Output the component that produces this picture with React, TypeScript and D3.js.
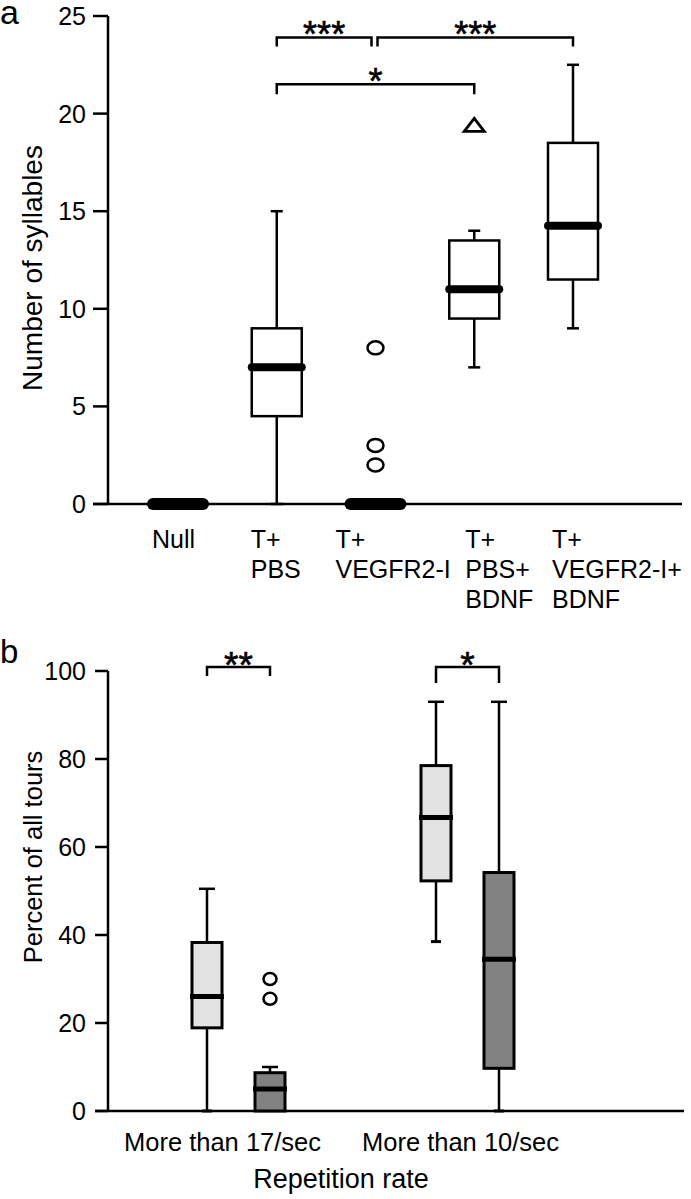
import React from "react";
import * as d3 from "d3";

// ---------- Panel a data ----------
const categoriesA: string[][] = [
  ["Null"],
  ["T+", "PBS"],
  ["T+", "VEGFR2-I"],
  ["T+", "PBS+", "BDNF"],
  ["T+", "VEGFR2-I+", "BDNF"],
];
const minA = [0, 0, 0, 7, 9];
const q1A = [0, 4.5, 0, 9.5, 11.5];
const medA = [0, 7, 0, 11, 14.25];
const q3A = [0, 9, 0, 13.5, 18.5];
const maxA = [0, 15, 0, 14, 22.5];
const outlierCatA = [2, 2, 2, 3];
const outlierValA = [8, 3, 2, 19.4];
const outlierShapeA = ["circle", "circle", "circle", "triangle"];
const ticksA = [0, 5, 10, 15, 20, 25];
const bracketFromA = [1, 2, 1];
const bracketToA = [2, 4, 3];
const bracketLevelA = [23.9, 23.9, 21.5];
const bracketLabelA = ["***", "***", "*"];

// ---------- Panel b data ----------
const groupsB = ["More than 17/sec", "More than 10/sec"];
const lightMinB = [0, 38.5];
const lightQ1B = [18.9, 52.3];
const lightMedB = [26, 66.7];
const lightQ3B = [38.3, 78.5];
const lightMaxB = [50.5, 93];
const darkMinB = [0, 0];
const darkQ1B = [0, 9.7];
const darkMedB = [5, 34.5];
const darkQ3B = [8.7, 54.2];
const darkMaxB = [10, 93];
const darkOutlierGroupB = [0, 0];
const darkOutlierValB = [30, 25.5];
const ticksB = [0, 20, 40, 60, 80, 100];
const bracketGroupB = [0, 1];
const bracketLevelB = [100.9, 100.9];
const bracketLabelB = ["**", "*"];

const FONT = "'Liberation Sans', Arial, Helvetica, sans-serif";

export default function App() {
  // scales panel a
  const yA = d3.scaleLinear().domain([0, 25]).range([504, 16]);
  const xA = d3.scalePoint<number>().domain(d3.range(categoriesA.length)).range([178, 573]);
  const boxW = 50;
  const capA = 12;
  const labelOffsetA = [-26, -26, -40, -9, -21];

  // scales panel b
  const yB = d3.scaleLinear().domain([0, 100]).range([1111, 671]);
  const xB = d3.scalePoint<number>().domain(d3.range(groupsB.length)).range([238.5, 467.5]);
  const seriesB = d3.scalePoint<number>().domain([0, 1]).range([-31.5, 31.5]);
  const boxWB = 30;
  const capB = 16;
  const labelOffsetB = [-16, -7];

  const seriesDefs = [
    { fill: "#e3e3e3", min: lightMinB, q1: lightQ1B, med: lightMedB, q3: lightQ3B, max: lightMaxB },
    { fill: "#818181", min: darkMinB, q1: darkQ1B, med: darkMedB, q3: darkQ3B, max: darkMaxB },
  ];

  const bracketTickA = [9, 9, 10];
  const bracketTickB = [9, 16];

  return (
    <svg
      width={691}
      height={1199}
      style={{ position: "absolute", left: 0, top: 0, background: "#fff" }}
      fontFamily={FONT}
    >
      <rect x={0} y={0} width={691} height={1199} fill="#fff" />
      {/* panel labels */}
      <text x={0} y={24} fontSize={34}>a</text>
      <text x={0} y={663} fontSize={33}>b</text>

      {/* ===== Panel a ===== */}
      <g>
        <line x1={108} x2={108} y1={yA(25)} y2={yA(0)} stroke="#000" strokeWidth={2.5} />
        {ticksA.map((t) => (
          <g key={t}>
            <line x1={93} x2={108} y1={yA(t)} y2={yA(t)} stroke="#000" strokeWidth={2.5} />
            <text x={86} y={yA(t)} dy="0.36em" textAnchor="end" fontSize={25}>{t}</text>
          </g>
        ))}
        <line x1={93} x2={682} y1={yA(0)} y2={yA(0)} stroke="#000" strokeWidth={2.5} />
        <text transform={`translate(42,268) rotate(-90)`} textAnchor="middle" fontSize={28}>
          Number of syllables
        </text>
        {categoriesA.map((lines, i) => (
          <text key={i} fontSize={25}>
            {lines.map((l, j) => (
              <tspan key={j} x={(xA(i) as number) + labelOffsetA[i]} y={548 + j * 30}>{l}</tspan>
            ))}
          </text>
        ))}
        {categoriesA.map((_, i) => {
          const cx = xA(i) as number;
          const hasBox = q3A[i] > q1A[i];
          return (
            <g key={i}>
              {maxA[i] > q3A[i] && (
                <>
                  <line x1={cx} x2={cx} y1={yA(q3A[i])} y2={yA(maxA[i])} stroke="#000" strokeWidth={2.5} />
                  <line x1={cx - capA / 2} x2={cx + capA / 2} y1={yA(maxA[i])} y2={yA(maxA[i])} stroke="#000" strokeWidth={2.5} />
                </>
              )}
              {hasBox && (
                <>
                  <line x1={cx} x2={cx} y1={yA(q1A[i])} y2={yA(minA[i])} stroke="#000" strokeWidth={2.5} />
                  <line x1={cx - capA / 2} x2={cx + capA / 2} y1={yA(minA[i])} y2={yA(minA[i])} stroke="#000" strokeWidth={2.5} />
                  <rect
                    x={cx - boxW / 2}
                    y={yA(q3A[i])}
                    width={boxW}
                    height={yA(q1A[i]) - yA(q3A[i])}
                    fill="#fff"
                    stroke="#000"
                    strokeWidth={2.5}
                  />
                </>
              )}
              <line
                x1={cx - boxW / 2}
                x2={cx + boxW / 2}
                y1={yA(medA[i])}
                y2={yA(medA[i])}
                stroke="#000"
                strokeWidth={hasBox ? 8 : 12}
                strokeLinecap="round"
              />
            </g>
          );
        })}
        {outlierValA.map((v, k) => {
          const cx = xA(outlierCatA[k]) as number;
          const cy = yA(v);
          if (outlierShapeA[k] === "triangle") {
            const p = `${cx},${cy - 7} ${cx + 10},${cy + 6} ${cx - 10},${cy + 6}`;
            return <polygon key={k} points={p} fill="#fff" stroke="#000" strokeWidth={2.8} />;
          }
          return <ellipse key={k} cx={cx} cy={cy} rx={8} ry={6.5} fill="#fff" stroke="#000" strokeWidth={2.5} />;
        })}
        {bracketLabelA.map((lab, k) => {
          const fromShared = k === 1;
          const toShared = k === 0;
          const x1 = (xA(bracketFromA[k]) as number) + (fromShared ? 2 : 0);
          const x2 = (xA(bracketToA[k]) as number) - (toShared ? 4 : 0);
          const y = yA(bracketLevelA[k]);
          return (
            <g key={k}>
              <path
                d={`M${x1},${y + bracketTickA[k]}V${y}H${x2}V${y + bracketTickA[k]}`}
                fill="none"
                stroke="#000"
                strokeWidth={2.5}
              />
              <text x={(x1 + x2) / 2} y={y + 10} textAnchor="middle" fontSize={36} stroke="#000" strokeWidth={0.6}>{lab}</text>
            </g>
          );
        })}
      </g>

      {/* ===== Panel b ===== */}
      <g>
        <line x1={108} x2={108} y1={yB(100)} y2={yB(0)} stroke="#000" strokeWidth={2.5} />
        {ticksB.map((t) => (
          <g key={t}>
            <line x1={95} x2={108} y1={yB(t)} y2={yB(t)} stroke="#000" strokeWidth={2.5} />
            <text x={86} y={yB(t)} dy="0.36em" textAnchor="end" fontSize={25}>{t}</text>
          </g>
        ))}
        <line x1={95} x2={684} y1={yB(0)} y2={yB(0)} stroke="#000" strokeWidth={2.5} />
        <text transform={`translate(42,857) rotate(-90)`} textAnchor="middle" fontSize={25.5}>
          Percent of all tours
        </text>
        {groupsB.map((g, i) => (
          <text key={g} x={(xB(i) as number) + labelOffsetB[i]} y={1151} textAnchor="middle" fontSize={25.5}>
            {g}
          </text>
        ))}
        <text x={341} y={1188} textAnchor="middle" fontSize={27}>Repetition rate</text>

        {groupsB.map((_, i) =>
          seriesDefs.map((s, j) => {
            const cx = (xB(i) as number) + (seriesB(j) as number);
            return (
              <g key={`${i}-${j}`}>
                <line x1={cx} x2={cx} y1={yB(s.q3[i])} y2={yB(s.max[i])} stroke="#000" strokeWidth={2.5} />
                <line x1={cx - capB / 2} x2={cx + capB / 2} y1={yB(s.max[i])} y2={yB(s.max[i])} stroke="#000" strokeWidth={2.5} />
                {s.q1[i] > s.min[i] && (
                  <>
                    <line x1={cx} x2={cx} y1={yB(s.q1[i])} y2={yB(s.min[i])} stroke="#000" strokeWidth={2.5} />
                    <line x1={cx - 5} x2={cx + 5} y1={yB(s.min[i])} y2={yB(s.min[i])} stroke="#000" strokeWidth={3} />
                  </>
                )}
                <rect
                  x={cx - boxWB / 2}
                  y={yB(s.q3[i])}
                  width={boxWB}
                  height={yB(s.q1[i]) - yB(s.q3[i])}
                  fill={s.fill}
                  stroke="#000"
                  strokeWidth={3}
                />
                <line
                  x1={cx - boxWB / 2 - 2}
                  x2={cx + boxWB / 2 + 2}
                  y1={yB(s.med[i])}
                  y2={yB(s.med[i])}
                  stroke="#000"
                  strokeWidth={5}
                />
              </g>
            );
          })
        )}
        {darkOutlierValB.map((v, k) => {
          const cx = (xB(darkOutlierGroupB[k]) as number) + (seriesB(1) as number);
          return <ellipse key={k} cx={cx} cy={yB(v)} rx={6.5} ry={6} fill="#fff" stroke="#000" strokeWidth={2.5} />;
        })}
        {bracketLabelB.map((lab, k) => {
          const gx = xB(bracketGroupB[k]) as number;
          const x1 = gx + (seriesB(0) as number);
          const x2 = gx + (seriesB(1) as number);
          const y = yB(bracketLevelB[k]);
          return (
            <g key={k}>
              <path
                d={`M${x1},${y + bracketTickB[k]}V${y}H${x2}V${y + bracketTickB[k]}`}
                fill="none"
                stroke="#000"
                strokeWidth={2.5}
              />
              <text x={(x1 + x2) / 2} y={y + 11} textAnchor="middle" fontSize={37} stroke="#000" strokeWidth={0.6}>{lab}</text>
            </g>
          );
        })}
      </g>
    </svg>
  );
}
